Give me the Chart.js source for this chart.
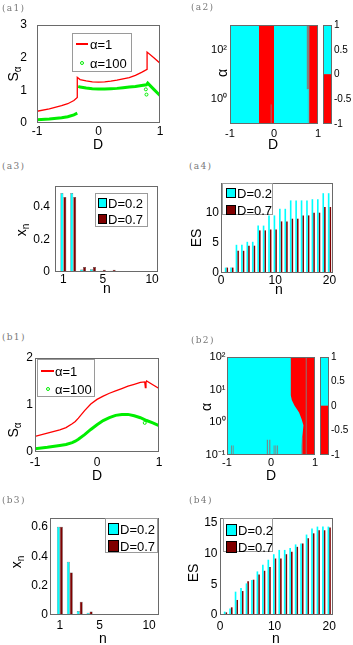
<!DOCTYPE html>
<html>
<head>
<meta charset="utf-8">
<title>S_alpha, sign maps, x_n and ES</title>
<script src="https://cdn.jsdelivr.net/npm/chart.js@4.4.1/dist/chart.umd.min.js"></script>
<style>
  body { margin: 0; width: 353px; height: 645px; position: relative; overflow: hidden; background: #fff;
         font-family: "Liberation Sans", Arial, sans-serif; color: #000; }
  canvas { position: absolute; }
  .tag { position: absolute; font: 9px "DejaVu Serif", serif; color: #777; letter-spacing: 1.3px; line-height: 1; }
  .ttl { position: absolute; font-size: 14px; line-height: 1; white-space: nowrap; transform: translate(-50%, -50%); }
  .ttl.rot { transform: translate(-50%, -50%) rotate(-90deg); }
  .ttl sub { font-size: 10px; vertical-align: -3px; line-height: 0; }
  .leg { position: absolute; border: 1px solid #9a9a9a; background: #fff; box-sizing: border-box; }
  .leg span { position: absolute; font-size: 13px; line-height: 1; white-space: nowrap; transform: translateY(-50%); }
  .leg i { position: absolute; display: block; box-sizing: border-box; }
</style>
</head>
<body>
<script>
// ── Datos ─────────────────────────────────────────────────────────────────────
// (a1) S_alpha vs D
const a1RedD   = [-1, -0.8, -0.6, -0.5, -0.4, -0.345, -0.345, -0.3, -0.2, -0.1, 0, 0.1, 0.2, 0.3, 0.4, 0.5, 0.6, 0.7, 0.79, 0.79, 0.9, 1];
const a1RedS   = [0.36, 0.43, 0.53, 0.59, 0.69, 0.78, 1.4, 1.33, 1.29, 1.26, 1.25, 1.26, 1.28, 1.31, 1.35, 1.39, 1.46, 1.55, 1.64, 2.17, 2.0, 1.83];
const a1GreenD = [-1, -0.8, -0.6, -0.5, -0.4, -0.345, -0.34, -0.33, -0.3, -0.2, -0.1, 0, 0.1, 0.2, 0.3, 0.4, 0.5, 0.6, 0.7, 0.78, 0.8, 0.9, 1];
const a1GreenS = [0.1, 0.12, 0.16, 0.19, 0.25, 0.3, null, 1.12, 1.1, 1.07, 1.05, 1.04, 1.04, 1.05, 1.06, 1.08, 1.1, 1.12, 1.15, 1.17, 1.22, 1.03, 0.84];
const a1StrayD = [0.77, 0.78];
const a1StrayS = [1.03, 0.87];

// (b1) S_alpha vs D
const b1RedD   = [-1, -0.8, -0.6, -0.5, -0.4, -0.35, -0.3, -0.2, -0.1, 0, 0.1, 0.2, 0.3, 0.4, 0.5, 0.6, 0.7, 0.77, 0.78, 0.79, 0.8, 0.9, 1];
const b1RedS   = [0.33, 0.4, 0.47, 0.52, 0.6, 0.65, 0.72, 0.88, 1.02, 1.12, 1.19, 1.25, 1.3, 1.35, 1.4, 1.44, 1.48, 1.49, 1.37, 1.48, 1.51, 1.43, 1.35];
const b1GreenD = [-1, -0.8, -0.6, -0.5, -0.4, -0.35, -0.3, -0.2, -0.1, 0, 0.1, 0.2, 0.3, 0.4, 0.5, 0.6, 0.7, 0.8, 0.9, 1];
const b1GreenS = [0.07, 0.1, 0.14, 0.16, 0.2, 0.23, 0.27, 0.37, 0.48, 0.58, 0.67, 0.73, 0.78, 0.8, 0.8, 0.77, 0.73, 0.67, 0.62, 0.56];
const b1StrayD = [0.77];
const b1StrayS = [0.62];
const lineNames = ['α=1', 'α=100'];

// (a2)/(b2) mapa de signo: franjas D∈[lo,hi] × α∈[bot,top], valor +1 / -1 / 0 (costura gris)
const a2Lo  = [-1,   -0.34, 0.8,  0.745, 0.77, -0.075];
const a2Hi  = [ 1,    0.0,  1.0,  0.795, 0.78, -0.055];
const a2Bot = [0.1,   0.1,  0.1,  2.5,   0.1,   0.1];
const a2Top = [1000, 1000, 1000, 1000,   2.5,   0.63];
const a2Val = [1,    -1,   -1,    0,     0,     0];

const b2Lo  = [-1,  0.70, 0.79, -0.91, -0.87, -0.095, -0.04,  0.06, 0.10, 0.14];
const b2Hi  = [ 1,  0.72, 0.81, -0.89, -0.85, -0.07,  -0.015, 0.08, 0.12, 0.16];
const b2Bot = [0.1, 0.1,  0.1,   0.1,   0.1,   0.1,    0.1,   0.1,  0.1,  0.1];
const b2Top = [100, 0.35, 100,   0.2,   0.2,   0.3,    0.3,   0.2,  0.2,  0.2];
const b2Val = [1,   0,    0,     0,     0,     0,      0,     0,    0,    0];
// borde de la región negativa (a su derecha, hasta D=1)
const b2EdgeD = [0.45, 0.45, 0.472, 0.533, 0.638, 0.698, 0.737, 0.722, 0.706, 0.70, 0.70];
const b2EdgeA = [100,  6.8,  4.8,   3.3,   2.0,   1.23,  0.81,  0.49,  0.30,  0.19, 0.1];

// (a3)/(b3) x_n ; (a4)/(b4) ES
const nX  = [1, 2, 3, 4, 5, 6, 7, 8, 9, 10];
const a3X02 = [0.487, 0.487, 0.015, 0.017, 0.008, 0.008, 0, 0, 0, 0];
const a3X07 = [0.462, 0.462, 0.031, 0.031, 0.014, 0.014, 0, 0, 0, 0];
const b3X02 = [0.6, 0.362, 0.027, 0.016, 0.005, 0.004, 0.002, 0.001, 0, 0];
const b3X07 = [0.6, 0.29, 0.09, 0.023, 0.005, 0.004, 0.002, 0.001, 0, 0];
const nES = [1, 2, 3, 4, 5, 6, 7, 8, 9, 10, 11, 12, 13, 14, 15, 16, 17, 18, 19, 20];
const a4ES02 = [0.9, 0.9, 4.7, 4.7, 5.2, 5.2, 7.9, 7.9, 9.6, 9.6, 10.7, 10.7, 12.1, 12.1, 12.1, 12.1, 12.3, 12.3, 13.3, 13.3];
const a4ES07 = [0.9, 0.9, 3.7, 3.7, 4.55, 4.55, 7.1, 7.1, 7.25, 7.25, 8.6, 8.6, 9.05, 9.05, 9.6, 9.6, 10.05, 10.05, 11.0, 11.0];
const b4ES02 = [0.55, 1.05, 3.8, 4.4, 5.15, 5.7, 7.1, 8.2, 9.0, 9.9, 10.6, 10.6, 10.9, 11.5, 11.65, 13.1, 14.1, 14.4, 14.4, 14.4];
const b4ES07 = [0.43, 1.25, 2.45, 3.9, 5.5, 5.75, 6.6, 7.2, 7.8, 9.2, 9.2, 9.9, 10.3, 11.1, 11.65, 12.5, 13.3, 13.8, 13.8, 14.25];
const barNames = ['D=0.2', 'D=0.7'];

// Ticks
const ticksD = [-1, 0, 1];
const ticksA1S = [0, 1, 2, 3];
const ticksB1S = [0, 1, 2];
const ticksA2Alpha = [1, 100];
const ticksB2Alpha = [0.1, 1, 10, 100];
const ticksCbar = [-1, -0.5, 0, 0.5, 1];
const ticksN10 = [1, 5, 10];
const ticksA3X = [0, 0.2, 0.4];
const ticksB3X = [0, 0.2, 0.4, 0.6];
const ticksN20 = [0, 10, 20];
const ticksA4ES = [0, 5, 10];
const ticksB4ES = [0, 5, 10, 15];

// ── Estilo ───────────────────────────────────────────────────────────────────
const RED = '#ff0000', GREEN = '#00ee00', CYAN = '#00ffff', MAROON = '#800000', GRAY = '#808080';
const signColor = v => v > 0 ? CYAN : v < 0 ? RED : GRAY;
const POW = { 0.1: '10⁻¹', 1: '10⁰', 10: '10¹', 100: '10²' };

Chart.defaults.font.family = '"Liberation Sans", Arial, sans-serif';
Chart.defaults.font.size = 12;
Chart.defaults.color = '#000';
Chart.defaults.animation = false;
Chart.defaults.plugins.legend.display = false;
Chart.defaults.plugins.tooltip.enabled = false;

// marco de los ejes (box on)
const frame = {
  id: 'frame',
  afterDatasetsDraw(chart) {
    const { ctx, chartArea: a } = chart;
    ctx.save();
    ctx.strokeStyle = '#6a6a6a';
    ctx.lineWidth = 1;
    ctx.strokeRect(Math.round(a.left) + 0.5, Math.round(a.top) + 0.5, Math.round(a.width) - 1, Math.round(a.height) - 1);
    ctx.restore();
  }
};

// gap = distancia entre el marco y el texto del tick (tickLength invisible)
function axis(o) {
  return {
    type: o.type || 'linear',
    position: o.pos,
    min: o.min, max: o.max,
    bounds: 'data',
    offset: false,
    grid: { display: false, drawTicks: true, tickLength: o.gap },
    border: { display: false },
    afterBuildTicks: s => { s.ticks = o.ticks.map(v => ({ value: v })); },
    ticks: { padding: 0, autoSkip: false, maxRotation: 0,
             font: { size: o.size || 12 }, callback: o.fmt || (v => String(v)) },
  };
}

function makeCanvas(box) {
  const c = document.createElement('canvas');
  c.width = box[2] - box[0];
  c.height = box[3] - box[1];
  c.style.left = box[0] + 'px';
  c.style.top = box[1] + 'px';
  document.body.appendChild(c);
  return c;
}

// box y plot: [izq, arriba, der, abajo] en px de página
function panel(box, plot, type, datasets, sx, sy, extra) {
  sx.afterFit = s => { s.height = box[3] - plot[3]; };
  sy.afterFit = s => { s.width = plot[0] - box[0]; };
  return new Chart(makeCanvas(box), {
    type,
    data: { datasets },
    options: Object.assign({
      responsive: false,
      layout: { padding: { left: 0, top: plot[1] - box[1], right: box[2] - plot[2], bottom: 0 } },
      scales: { x: sx, y: sy },
    }, extra || {}),
    plugins: [frame],
  });
}

function colorbar(box, plot) {
  const sy = axis({ min: -1, max: 1, ticks: ticksCbar, pos: 'right', gap: 2, size: 10 });
  sy.afterFit = s => { s.width = box[2] - plot[2]; };
  return new Chart(makeCanvas(box), {
    type: 'bar',
    data: { labels: [''], datasets: [
      { data: [[-1, 0]], backgroundColor: RED },
      { data: [[0, 1]], backgroundColor: CYAN },
    ] },
    options: {
      responsive: false,
      layout: { padding: { left: plot[0] - box[0], top: plot[1] - box[1], right: 0, bottom: box[3] - plot[3] } },
      datasets: { bar: { grouped: false, categoryPercentage: 1, barPercentage: 1 } },
      scales: { x: { display: false }, y: sy },
    },
    plugins: [frame],
  });
}

const pts = (xs, ys) => xs.map((x, i) => ({ x, y: ys[i] }));

function curves(rD, rS, gD, gS, oD, oS) {
  return [
    { data: pts(rD, rS), borderColor: RED, borderWidth: 1.3, pointRadius: 0, fill: false },
    { data: pts(gD, gS), borderColor: GREEN, borderWidth: 3, pointRadius: 0, fill: false },
    { data: pts(oD, oS), showLine: false, borderColor: GREEN, borderWidth: 1, pointRadius: 1.5,
      pointBackgroundColor: 'transparent', pointBorderColor: GREEN },
  ];
}

// franjas del mapa (eje índice = α, se rellena en D desde lo hasta hi)
function strips(lo, hi, bot, top, val) {
  return lo.map((l, i) => ({
    data: [{ x: l, y: bot[i] }, { x: l, y: top[i] }],
    fill: { value: hi[i] }, backgroundColor: signColor(val[i]),
    borderColor: 'transparent', borderWidth: 0, pointRadius: 0,
  }));
}

function bars(n, v02, v07, edge) {
  const common = { borderColor: 'rgba(0,0,0,0.75)', borderWidth: edge, categoryPercentage: 0.6, barPercentage: 1 };
  return [
    Object.assign({ data: pts(n, v02), backgroundColor: CYAN }, common),
    Object.assign({ data: pts(n, v07), backgroundColor: MAROON }, common),
  ];
}

// ── (a1) ──
panel([0, 10, 176, 150], [37, 25, 160, 123], 'line',
  curves(a1RedD, a1RedS, a1GreenD, a1GreenS, a1StrayD, a1StrayS),
  axis({ min: -1, max: 1, ticks: ticksD, gap: 1 }),
  axis({ min: 0, max: 3, ticks: ticksA1S, gap: 10 }));

// ── (a2) ──
{
  const ds = strips(a2Lo, a2Hi, a2Bot, a2Top, a2Val).reverse();
  panel([190, 12, 322, 150], [230, 25, 318, 124], 'line', ds,
    axis({ min: -1, max: 1, ticks: ticksD, gap: 3, size: 11 }),
    axis({ type: 'logarithmic', min: 0.1, max: 1000, ticks: ticksA2Alpha, gap: 3, size: 11, fmt: v => POW[v] }),
    { indexAxis: 'y' });
  colorbar([322, 12, 353, 136], [323, 25, 332, 124]);
}

// ── (a3) ──
panel([0, 174, 176, 300], [55, 186, 158, 272], 'bar', bars(nX, a3X02, a3X07, 0.5),
  axis({ min: 0.15, max: 10.6, ticks: ticksN10, gap: 0 }),
  axis({ min: 0, max: 0.53, ticks: ticksA3X, gap: 5 }));

// ── (a4) ──
panel([176, 172, 353, 300], [221, 183, 333, 273], 'bar', bars(nES, a4ES02, a4ES07, 0),
  axis({ min: 0, max: 20.65, ticks: ticksN20, gap: 0 }),
  axis({ min: 0, max: 15, ticks: ticksA4ES, gap: 2 }));

// ── (b1) ──
panel([0, 344, 176, 470], [35, 358, 159, 452], 'line',
  curves(b1RedD, b1RedS, b1GreenD, b1GreenS, b1StrayD, b1StrayS),
  axis({ min: -1, max: 1, ticks: ticksD, gap: 3 }),
  axis({ min: 0, max: 2, ticks: ticksB1S, gap: 2 }));

// ── (b2) ──
{
  const bg = strips(b2Lo.slice(0, 1), b2Hi.slice(0, 1), b2Bot.slice(0, 1), b2Top.slice(0, 1), b2Val.slice(0, 1));
  const neg = [{ data: pts(b2EdgeD, b2EdgeA), fill: { value: 1 }, backgroundColor: RED,
                 borderColor: 'transparent', borderWidth: 0, pointRadius: 0 }];
  const seams = strips(b2Lo.slice(1), b2Hi.slice(1), b2Bot.slice(1), b2Top.slice(1), b2Val.slice(1));
  const ds = bg.concat(neg, seams).reverse();
  panel([190, 344, 319, 470], [227, 357, 315, 455], 'line', ds,
    axis({ min: -1, max: 1, ticks: ticksD, gap: 1, size: 11 }),
    axis({ type: 'logarithmic', min: 0.1, max: 100, ticks: ticksB2Alpha, gap: 1.5, size: 11, fmt: v => POW[v] }),
    { indexAxis: 'y' });
  colorbar([319, 344, 353, 468], [320, 357, 329, 455]);
}

// ── (b3) ──
panel([0, 504, 176, 645], [50, 518, 159, 615], 'bar', bars(nX, b3X02, b3X07, 0.5),
  axis({ min: 0, max: 11, ticks: ticksN10, gap: 3.5 }),
  axis({ min: 0, max: 0.66, ticks: ticksB3X, gap: 2 }));

// ── (b4) ──
panel([176, 504, 353, 645], [220, 518, 333, 615], 'bar', bars(nES, b4ES02, b4ES07, 0),
  axis({ min: 0, max: 20.7, ticks: ticksN20, gap: 4 }),
  axis({ min: 0, max: 15.8, ticks: ticksB4ES, gap: 2.5 }));

// ── Textos HTML: rótulos de panel, títulos de ejes, leyendas ──
function put(cls, x, y, html) {
  const d = document.createElement('div');
  d.className = cls;
  d.style.left = x + 'px';
  d.style.top = y + 'px';
  d.innerHTML = html;
  document.body.appendChild(d);
}
[['(a1)', 2, 4], ['(a2)', 191, 3], ['(a3)', 2, 162], ['(a4)', 189, 162],
 ['(b1)', 2, 333], ['(b2)', 191, 336], ['(b3)', 2, 496], ['(b4)', 189, 496]]
  .forEach(([t, x, y]) => put('tag', x, y, t));

[['D', 98, 144], ['S<sub>α</sub>', 13, 74, 1], ['D', 273, 144], ['α', 222, 73, 1],
 ['n', 107, 288], ['x<sub>n</sub>', 21, 230, 1], ['n', 279, 289], ['ES', 196, 238, 1],
 ['D', 97, 475], ['S<sub>α</sub>', 13, 430, 1], ['D', 271, 475], ['α', 206, 407, 1],
 ['n', 103, 638], ['x<sub>n</sub>', 16, 562, 1], ['n', 276, 638], ['ES', 193, 573, 1]]
  .forEach(([t, x, y, r]) => put(r ? 'ttl rot' : 'ttl', x, y, t));

function legendBox(l, t, w, h, rows) {
  const box = document.createElement('div');
  box.className = 'leg';
  Object.assign(box.style, { left: l + 'px', top: t + 'px', width: w + 'px', height: h + 'px' });
  rows.forEach(r => {
    const k = document.createElement('i');
    Object.assign(k.style, r.key);
    box.appendChild(k);
    const s = document.createElement('span');
    s.textContent = r.label;
    s.style.left = r.tx + 'px';
    s.style.top = r.ty + 'px';
    box.appendChild(s);
  });
  document.body.appendChild(box);
}
const lineKey = (x, y, w) => ({ left: x + 'px', top: (y - 0.7) + 'px', width: w + 'px', height: '1.4px', background: RED });
const dotKey = (x, y) => ({ left: (x - 2) + 'px', top: (y - 2) + 'px', width: '4px', height: '4px',
                            border: '1px solid ' + GREEN, borderRadius: '50%' });
const patch = (x, y, w, h, c) => ({ left: x + 'px', top: y + 'px', width: w + 'px', height: h + 'px',
                                    background: c, border: '1px solid #000' });

legendBox(72, 33, 60, 39, [
  { key: lineKey(3, 10, 12), label: lineNames[0], tx: 17, ty: 10 },
  { key: dotKey(9, 29), label: lineNames[1], tx: 17, ty: 29 }]);
legendBox(37, 359, 58, 38, [
  { key: lineKey(3, 11, 13), label: lineNames[0], tx: 17, ty: 11 },
  { key: dotKey(10, 29), label: lineNames[1], tx: 17, ty: 29 }]);
legendBox(95, 193, 53, 34, [
  { key: patch(2, 4, 9, 10, CYAN), label: barNames[0], tx: 12, ty: 9 },
  { key: patch(2, 20, 9, 10, MAROON), label: barNames[1], tx: 12, ty: 25 }]);
legendBox(222, 183, 51, 32, [
  { key: patch(3, 4, 10, 10, CYAN), label: barNames[0], tx: 14, ty: 9 },
  { key: patch(3, 21, 10, 10, MAROON), label: barNames[1], tx: 14, ty: 26 }]);
legendBox(105, 518, 53, 35, [
  { key: patch(2, 4, 11, 12, CYAN), label: barNames[0], tx: 14, ty: 10 },
  { key: patch(2, 21, 11, 12, MAROON), label: barNames[1], tx: 14, ty: 27 }]);
legendBox(223, 518, 50, 34, [
  { key: patch(2, 5, 11, 12, CYAN), label: barNames[0], tx: 14, ty: 11 },
  { key: patch(2, 22, 11, 12, MAROON), label: barNames[1], tx: 14, ty: 28 }]);
</script>
</body>
</html>
